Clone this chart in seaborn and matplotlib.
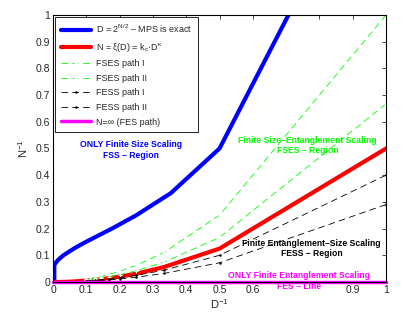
import matplotlib
matplotlib.use("Agg")
import matplotlib.pyplot as plt
import seaborn as sns
import pandas as pd

# ---- data ----
blue_x = [0.0039, 0.0039, 0.0078, 0.0156, 0.03125, 0.0625, 0.088, 0.125, 0.177, 0.25, 0.354, 0.5, 0.707]
blue_y = [0.0, 0.0625, 0.0714, 0.083, 0.10, 0.125, 0.143, 0.167, 0.20, 0.25, 0.333, 0.5, 1.0]

red_x = [1.0, 0.5, 0.333, 0.25, 0.2, 0.167, 0.143, 0.125, 0.111, 0.1, 0.05, 0.02, 0.0]
red_y = [0.5, 0.125, 0.056, 0.031, 0.02, 0.014, 0.010, 0.008, 0.006, 0.005, 0.001, 0.0, 0.0]

path_x = [1.0, 0.5, 0.333, 0.25, 0.2, 0.167, 0.143, 0.125, 0.111, 0.1]
fses1_y = [1.0, 0.25, 0.111, 0.0625, 0.04, 0.028, 0.020, 0.016, 0.012, 0.010]
fses2_y = [0.667, 0.167, 0.074, 0.042, 0.027, 0.0185, 0.0136, 0.0104, 0.0082, 0.0067]
fess1_y = [0.40, 0.10, 0.044, 0.025, 0.016, 0.011, 0.008, 0.006, 0.005, 0.004]
fess2_y = [0.29, 0.072, 0.032, 0.018, 0.0116, 0.008, 0.006, 0.0045, 0.0036, 0.0029]

fes_x = [0.0, 1.0]
fes_y = [0.0, 0.0]

xticks = [0, 0.1, 0.2, 0.3, 0.4, 0.5, 0.6, 0.7, 0.8, 0.9, 1]
xticklabels = ["0", "0.1", "0.2", "0.3", "0.4", "0.5", "0.6", "", "", "0.9", "1"]
yticks = [0, 0.1, 0.2, 0.3, 0.4, 0.5, 0.6, 0.7, 0.8, 0.9, 1]
yticklabels = ["0", "0.1", "0.2", "0.3", "0.4", "0.5", "0.6", "0.7", "0.8", "0.9", "1"]

sns.set_style("white")
plt.rcParams['font.family'] = ['Liberation Sans', 'DejaVu Sans']
plt.rcParams['mathtext.fontset'] = 'custom'
plt.rcParams['mathtext.rm'] = 'Liberation Sans'
plt.rcParams['mathtext.it'] = 'Liberation Sans'
plt.rcParams['mathtext.default'] = 'regular'

fig = plt.figure(figsize=(4.15, 3.33), dpi=100)
ax = fig.add_axes([53 / 415, 51 / 333, 333 / 415, 267 / 333])

def draw(x, y, **kw):
    df = pd.DataFrame({"x": x, "y": y})
    sns.lineplot(data=df, x="x", y="y", ax=ax, sort=False, estimator=None, **kw)

dash = (0, (8, 5))
draw(blue_x, blue_y, color="#0000ff", linewidth=3.0, label=r"D = 2$^{N/2}$ – MPS is exact")
draw(red_x, red_y, color="#ff0000", linewidth=3.0, label=r"N = ξ(D) = k$_c$·D$^κ$")
draw(path_x, fses1_y, color="#00ff00", linewidth=0.6, linestyle=dash, marker="+",
     markersize=3.5, markeredgewidth=0.8, label="FSES path I")
draw(path_x, fses2_y, color="#00ff00", linewidth=0.6, linestyle=dash, marker="+",
     markersize=3.5, markeredgewidth=0.8, label="FSES path II")
draw(path_x, fess1_y, color="black", linewidth=0.6, linestyle=dash, marker="o",
     markersize=1.8, markeredgewidth=0, label="FESS path I")
draw(path_x, fess2_y, color="black", linewidth=0.6, linestyle=dash, marker="o",
     markersize=1.8, markeredgewidth=0, label="FESS path II")
draw(fes_x, fes_y, color="#ff00ff", linewidth=2.5, label="N=∞ (FES path)", clip_on=False)

ax.set_xlim(0, 1)
ax.set_ylim(0, 1)
ax.set_xticks(xticks)
ax.set_xticklabels(xticklabels, fontsize=7.5)
ax.set_yticks(yticks)
ax.set_yticklabels(yticklabels, fontsize=7.5)
ax.tick_params(direction="in", length=3, width=0.6, top=True, right=True, pad=2)
for s in ax.spines.values():
    s.set_color("black")
    s.set_linewidth(0.8)
ax.set_xlabel(r"D$^{-1}$", fontsize=8, labelpad=2)
ax.set_ylabel(r"N$^{-1}$", fontsize=8, labelpad=4)

leg = ax.legend(loc="upper left", fontsize=6.5, handlelength=3.4, frameon=True, fancybox=False,
                edgecolor="black", borderpad=0.6, labelspacing=0.62, handletextpad=0.5,
                borderaxespad=0.25)
leg.get_frame().set_linewidth(0.6)
leg.get_frame().set_alpha(1)

tkw = dict(fontsize=6.2, fontweight="bold", ha="center", va="center", linespacing=1.25)
ax.text(0.233, 0.494, "ONLY Finite Size Scaling\nFSS – Region", color="#0000ff", **tkw)
ax.text(0.764, 0.511, "Finite Size–Entanglement Scaling\nFSES – Region", color="#00ff00", **tkw)
ax.text(0.776, 0.125, "Finite Entanglement–Size Scaling\nFESS – Region", color="black", **tkw)
ax.text(0.740, 0.024, "ONLY Finite Entanglement Scaling", color="#ff00ff", **tkw)
ax.text(0.740, -0.017, "FES – Line", color="#ff00ff", **tkw)

fig.savefig("out.png", dpi=100)
